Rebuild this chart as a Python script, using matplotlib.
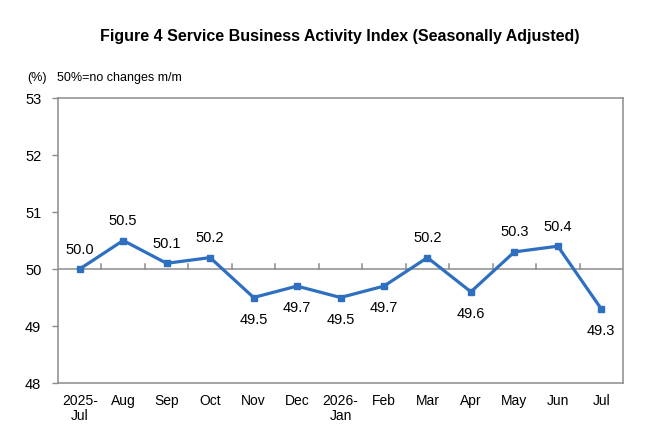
import matplotlib
matplotlib.use("Agg")
import matplotlib.pyplot as plt
import numpy as np

plt.rcParams['font.family'] = ['Liberation Sans', 'DejaVu Sans']

categories = ["2025-\nJul", "Aug", "Sep", "Oct", "Nov", "Dec", "2026-\nJan",
              "Feb", "Mar", "Apr", "May", "Jun", "Jul"]
values = [50.0, 50.5, 50.1, 50.2, 49.5, 49.7, 49.5, 49.7, 50.2, 49.6, 50.3, 50.4, 49.3]

fig = plt.figure(figsize=(6.6, 4.4), dpi=100)
ax = fig.add_axes([58/660, 1-383/440, 565/660, 285/440])

x = np.arange(len(categories))
ax.plot(x, values, color='#2E6FC0', lw=2.3, marker='s', ms=4.5, zorder=3)

ax.set_xlim(-0.5, len(categories)-0.5)
ax.set_ylim(48, 53)
ax.set_yticks([48, 49, 50, 51, 52, 53])
ax.set_yticklabels(['48', '49', '50', '51', '52', '53'])
ax.tick_params(axis='y', length=4, color='#8c8c8c', labelsize=10.5, pad=8, width=1)
ax.set_xticks(x)
ax.set_xticklabels(categories, fontsize=10, linespacing=1.05)
ax.tick_params(axis='x', length=0, pad=8)

for s in ax.spines.values():
    s.set_color('#8c8c8c')
    s.set_linewidth(1.1)

# baseline at 50 with upward tick marks at category boundaries
ax.axhline(50, color='#8c8c8c', lw=1.1, zorder=2)
for b in np.arange(0.5, len(categories)-0.5, 1.0):
    ax.plot([b, b], [50, 50.08], color='#8c8c8c', lw=1.1, zorder=2)

for xi, v in zip(x, values):
    if v >= 50:
        ax.annotate(f"{v:.1f}", (xi, v), xytext=(0, 9), textcoords='offset points',
                    ha='center', va='bottom', fontsize=10.5)
    else:
        ax.annotate(f"{v:.1f}", (xi, v), xytext=(0, -11), textcoords='offset points',
                    ha='center', va='top', fontsize=10.5)

fig.text(340/660, 1-36/440, "Figure 4 Service Business Activity Index (Seasonally Adjusted)",
         ha='center', va='center', fontsize=11.5, fontweight='bold')
fig.text(27/660, 1-78/440, "(%)", ha='left', va='center', fontsize=9)
fig.text(57/660, 1-78/440, "50%=no changes m/m", ha='left', va='center', fontsize=9)

fig.savefig("out.png", dpi=100)
